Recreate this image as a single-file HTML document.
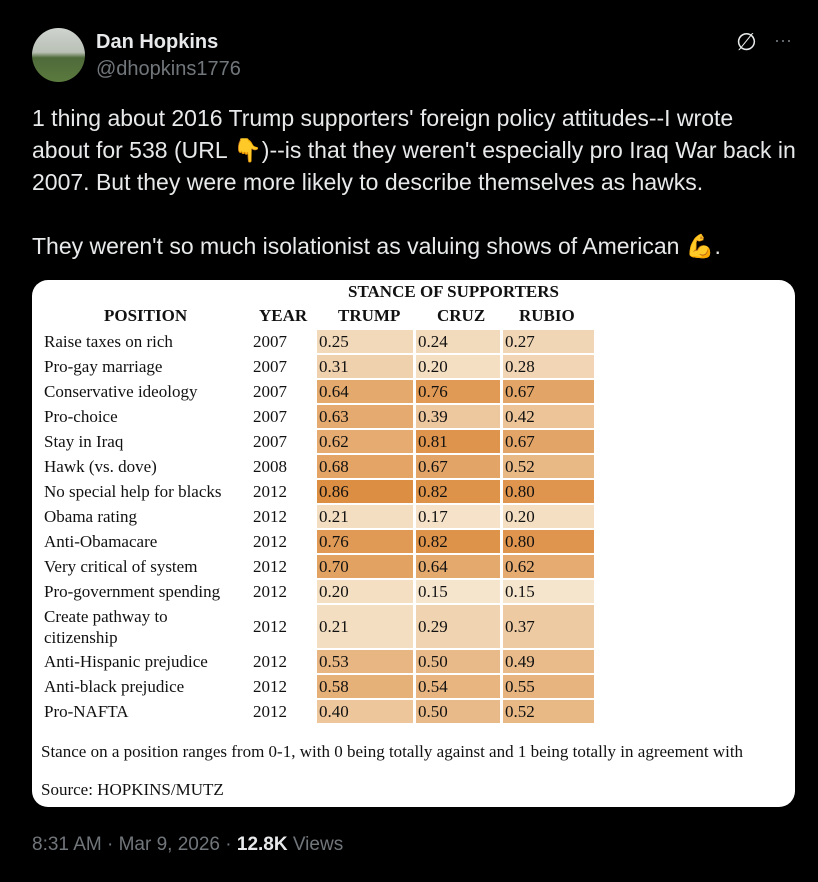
<!DOCTYPE html>
<html><head><meta charset="utf-8">
<style>
body{margin:0;width:818px;height:882px;background:#000;overflow:hidden;font-family:"Liberation Sans",sans-serif;position:relative;color:#e7e9ea}
.a{position:absolute;white-space:nowrap}
.serif{font-family:"Liberation Serif",serif;color:#111}
</style></head><body>
<div class="a" style="left:32px;top:28px;width:53px;height:54px;border-radius:50%;background:linear-gradient(#cfd4cf 0%,#b9c0b5 45%,#4f6a3a 55%,#5a7a3e 100%)"></div>
<div class="a" style="left:96px;top:31px;font-size:20px;font-weight:bold;color:#e7e9ea">Dan Hopkins</div>
<div class="a" style="left:96px;top:58px;font-size:20px;color:#71767b">@dhopkins1776</div>
<div class="a" style="left:736px;top:28px;font-size:24px;color:#e7e9ea">∅</div>
<div class="a" style="left:774px;top:30px;font-size:18px;color:#71767b">···</div>
<div class="a" style="left:32px;top:102px;font-size:23px;line-height:32px;color:#e7e9ea">1 thing about 2016 Trump supporters' foreign policy attitudes--I wrote<br>about for 538 (URL 👇)--is that they weren't especially pro Iraq War back in<br>2007. But they were more likely to describe themselves as hawks.<br><br>They weren't so much isolationist as valuing shows of American 💪.</div>
<div class="a" style="left:32px;top:280px;width:763px;height:527px;background:#fff;border-radius:16px"></div>
<div class="a serif" style="left:348px;top:282px;font-size:17px;font-weight:bold">STANCE OF SUPPORTERS</div>
<div class="a serif" style="left:104px;top:306px;font-size:17px;font-weight:bold">POSITION</div>
<div class="a serif" style="left:259px;top:306px;font-size:17px;font-weight:bold">YEAR</div>
<div class="a serif" style="left:338px;top:306px;font-size:17px;font-weight:bold">TRUMP</div>
<div class="a serif" style="left:437px;top:306px;font-size:17px;font-weight:bold">CRUZ</div>
<div class="a serif" style="left:519px;top:306px;font-size:17px;font-weight:bold">RUBIO</div>
<div id="tbl"></div>
<div class="a serif" style="left:41px;top:742px;font-size:17px">Stance on a position ranges from 0-1, with 0 being totally against and 1 being totally in agreement with</div>
<div class="a serif" style="left:41px;top:780px;font-size:17px">Source: HOPKINS/MUTZ</div>
<div class="a" style="left:32px;top:834px;font-size:19px;color:#71767b">8:31 AM · Mar 9, 2026 · <b style="color:#e7e9ea">12.8K</b> Views</div>
<script>
const positions=["Raise taxes on rich","Pro-gay marriage","Conservative ideology","Pro-choice","Stay in Iraq","Hawk (vs. dove)","No special help for blacks","Obama rating","Anti-Obamacare","Very critical of system","Pro-government spending","Create pathway to<br>citizenship","Anti-Hispanic prejudice","Anti-black prejudice","Pro-NAFTA"];
const years=["2007","2007","2007","2007","2007","2008","2012","2012","2012","2012","2012","2012","2012","2012","2012"];
const trump=[0.25,0.31,0.64,0.63,0.62,0.68,0.86,0.21,0.76,0.70,0.20,0.21,0.53,0.58,0.40];
const cruz=[0.24,0.20,0.76,0.39,0.81,0.67,0.82,0.17,0.82,0.64,0.15,0.29,0.50,0.54,0.50];
const rubio=[0.27,0.28,0.67,0.42,0.67,0.52,0.80,0.20,0.80,0.62,0.15,0.37,0.49,0.55,0.52];
const cols=[{d:trump,x:317,w:96,n:'trump'},{d:cruz,x:416,w:84,n:'cruz'},{d:rubio,x:503,w:91,n:'rubio'}];
function color(v){const t=Math.max(0,Math.min(1,(v-0.1)/0.8));
 const a=[247,235,215],b=[219,137,58];
 return 'rgb('+a.map((c,i)=>Math.round(c+(b[i]-c)*t)).join(',')+')';}
const tbl=document.getElementById('tbl');
let y=330;
positions.forEach((p,i)=>{
 const h=(i===11)?45:25;
 const lab=document.createElement('div');lab.className='a serif';
 
 
 lab.style.cssText=`left:44px;top:${i===11?y+1:y+2}px;font-size:17px;line-height:${i===11?21:20}px`;
 lab.innerHTML=p;tbl.appendChild(lab);
 const yr=document.createElement('div');yr.className='a serif';
 
 
 yr.style.cssText=`left:253px;top:${y+(h-20)/2-1}px;font-size:17px;line-height:20px`;
 yr.textContent=years[i];tbl.appendChild(yr);
 cols.forEach(c=>{
  const v=c.d[i];const cell=document.createElement('div');cell.className='a serif';
  
  
  cell.style.cssText=`left:${c.x}px;top:${y}px;width:${c.w}px;height:${h-2}px;background:${color(v)};font-size:17px;line-height:${h-2}px;padding-left:2px;box-sizing:border-box`;
  cell.textContent=v.toFixed(2);tbl.appendChild(cell);
 });
 y+=h;
});
</script>
</body></html>
